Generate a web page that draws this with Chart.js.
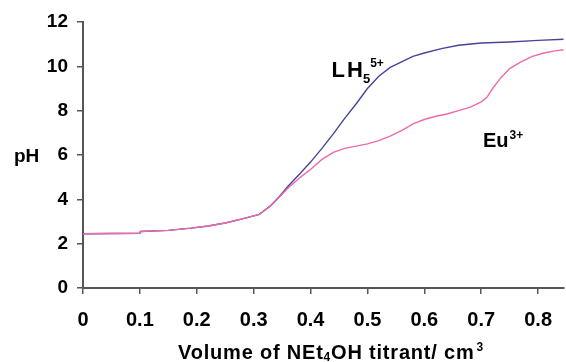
<!DOCTYPE html>
<html>
<head>
<meta charset="utf-8">
<script src="https://cdn.jsdelivr.net/npm/chart.js@4/dist/chart.umd.min.js"></script>
<style>
  html, body { margin: 0; padding: 0; background: #fff; }
  #wrap { width: 566px; height: 362px; position: relative; }
</style>
</head>
<body>
<div id="wrap"><canvas id="chart"></canvas></div>
<script>
// --- data ---
const euVol = [0, 0.1, 0.101, 0.15, 0.19, 0.22, 0.25, 0.28, 0.31, 0.33, 0.345, 0.36, 0.38, 0.40, 0.42, 0.44, 0.46, 0.48, 0.50, 0.52, 0.54, 0.56, 0.58, 0.60, 0.62, 0.64, 0.66, 0.68, 0.70, 0.71, 0.72, 0.735, 0.75, 0.77, 0.79, 0.81, 0.83, 0.845];
const euPH  = [2.45, 2.47, 2.55, 2.6, 2.7, 2.8, 2.93, 3.12, 3.32, 3.7, 4.1, 4.5, 4.95, 5.35, 5.8, 6.12, 6.3, 6.4, 6.5, 6.65, 6.85, 7.1, 7.4, 7.6, 7.75, 7.85, 8.0, 8.15, 8.4, 8.6, 9.0, 9.5, 9.9, 10.2, 10.45, 10.6, 10.7, 10.75];

const lhVol = [0, 0.1, 0.101, 0.15, 0.19, 0.22, 0.25, 0.28, 0.31, 0.33, 0.345, 0.36, 0.38, 0.40, 0.42, 0.44, 0.46, 0.48, 0.50, 0.52, 0.54, 0.56, 0.58, 0.60, 0.63, 0.66, 0.70, 0.75, 0.80, 0.845];
const lhPH  = [2.45, 2.47, 2.55, 2.6, 2.7, 2.8, 2.93, 3.12, 3.32, 3.72, 4.12, 4.58, 5.12, 5.68, 6.3, 6.95, 7.65, 8.3, 9.0, 9.55, 9.95, 10.2, 10.45, 10.6, 10.8, 10.95, 11.05, 11.1, 11.17, 11.22];

const xTicks = [0, 0.1, 0.2, 0.3, 0.4, 0.5, 0.6, 0.7, 0.8];
const yTicks = [0, 2, 4, 6, 8, 10, 12];

const BLUE = '#45459a';
const PINK = '#ee6aab';
const AXIS = '#5a5555';
const FONT = '"Liberation Sans", Arial, sans-serif';

const toPoints = (xs, ys) => xs.map((x, i) => ({ x, y: ys[i] }));

// draw text with sub/superscript parts: [text, size, dy, extraGap]
function drawRich(ctx, x, y, parts, align, spacing) {
  ctx.letterSpacing = (spacing || 0) + 'px';
  let total = 0;
  parts.forEach(p => { ctx.font = `bold ${p[1]}px ${FONT}`; total += ctx.measureText(p[0]).width + (p[3] || 0); });
  let cx = align === 'center' ? x - total / 2 : x;
  parts.forEach(p => {
    ctx.font = `bold ${p[1]}px ${FONT}`;
    ctx.fillText(p[0], cx, y + p[2]);
    cx += ctx.measureText(p[0]).width + (p[3] || 0);
  });
  ctx.letterSpacing = '0px';
}

// 1. TEXT PLUGIN (pH, x title, curve labels)
const textPlugin = {
  id: 'texts',
  afterDraw(chart) {
    const { ctx, scales: { x, y } } = chart;
    ctx.save();
    ctx.fillStyle = '#000';
    ctx.textAlign = 'left';
    ctx.textBaseline = 'alphabetic';

    // y axis title
    drawRich(ctx, 14, 162, [['pH', 19, 0]]);

    // x axis title
    drawRich(ctx, 331, 359, [
      ['Volume of NEt', 20, 0],
      ['4', 12, 2],
      ['OH titrant/ cm', 20, 0, 2],
      ['3', 12, -8]
    ], 'center', 0.8);

    // curve labels
    drawRich(ctx, x.getPixelForValue(0.437), y.getPixelForValue(9.52), [
      ['L', 22, 0, 2], ['H', 22, 0], ['5', 13, 6], ['5+', 12, -10]
    ]);
    drawRich(ctx, x.getPixelForValue(0.703), y.getPixelForValue(6.36), [
      ['Eu', 20, 0, 1], ['3+', 12, -8]
    ]);
    ctx.restore();
  }
};

// 2. CHART
new Chart(document.getElementById('chart'), {
  type: 'line',
  data: {
    datasets: [
      { label: 'Eu3+', data: toPoints(euVol, euPH), borderColor: PINK, borderWidth: 1.4, pointRadius: 0, tension: 0, fill: false, order: 0 },
      { label: 'LH5 5+', data: toPoints(lhVol, lhPH), borderColor: BLUE, borderWidth: 1.4, pointRadius: 0, tension: 0, fill: false, order: 1 }
    ]
  },
  options: {
    responsive: true,
    maintainAspectRatio: false,
    animation: false,
    layout: { padding: { top: 22, right: 0, left: 0, bottom: 0 } },
    plugins: { legend: { display: false }, tooltip: { enabled: false } },
    scales: {
      x: {
        type: 'linear', min: 0, max: 0.845,
        afterBuildTicks: s => { s.ticks = xTicks.map(v => ({ value: v })); },
        afterFit: s => { s.height = 74; },
        grid: { drawOnChartArea: false, drawTicks: true, tickLength: 6, color: AXIS, lineWidth: 1.5 },
        border: { color: AXIS, width: 2 },
        ticks: {
          color: '#000', padding: 14,
          font: { family: FONT, size: 20, weight: 'bold' },
          callback: v => String(Number(v.toFixed(1)))
        }
      },
      y: {
        min: 0, max: 12,
        afterBuildTicks: s => { s.ticks = yTicks.map(v => ({ value: v })); },
        afterFit: s => { s.width = 83; },
        grid: { drawOnChartArea: false, drawTicks: true, tickLength: 6, color: AXIS, lineWidth: 1.5 },
        border: { color: AXIS, width: 2 },
        ticks: {
          color: '#000', padding: 9,
          font: { family: FONT, size: 19, weight: 'bold' }
        }
      }
    }
  },
  plugins: [textPlugin]
});
</script>
</body>
</html>
